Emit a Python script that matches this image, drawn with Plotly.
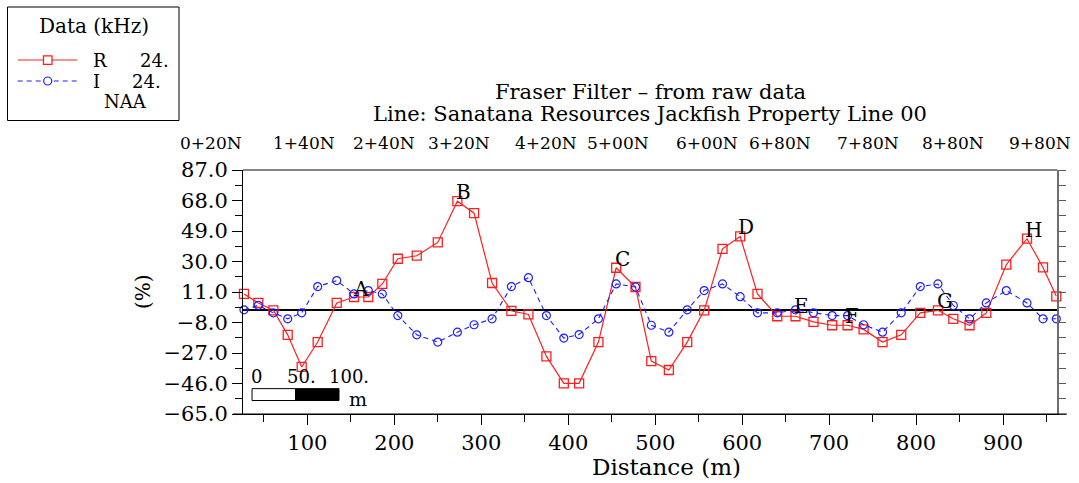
import plotly.graph_objects as go

# ---------------- data ----------------
distance = [27.1, 43.6, 60.9, 77.4, 93.5, 111.9, 133.8, 153.7, 170.1, 186.2, 204.0, 225.8, 250.0,
            272.5, 291.7, 312.4, 334.6, 354.2, 374.9, 394.9, 412.5, 434.7, 455.1, 477.3, 495.5,
            515.7, 536.8, 556.3, 577.4, 597.7, 617.6, 640.3, 661.3, 682.0, 703.5, 721.2,
            739.6, 761.4, 782.9, 804.8, 825.1, 842.8, 861.5, 880.7, 903.7, 927.5, 945.9, 961.2]
r_values = [9.8, 4.2, -0.4, -15.7, -35.7, -20.2, 4.2, 7.9, 7.9, 16.0, 31.7, 33.6, 41.9,
            67.6, 60.1, 16.6, -0.7, -3.0, -29.1, -45.9, -45.9, -20.2, 26.1, 14.1, -32.0,
            -37.6, -20.2, -0.4, 37.9, 45.6, 9.8, -4.1, -4.1, -7.6, -9.7, -9.7,
            -12.3, -20.2, -15.7, -2.0, -0.4, -5.7, -9.7, -2.0, 28.0, 44.2, 26.3, 8.3]
i_values = [-0.1, 2.7, -2.0, -5.7, -2.0, 14.4, 18.1, 9.8, 11.9, 9.8, -3.7, -15.7, -20.2,
            -14.0, -9.4, -5.7, 14.4, 19.9, -3.7, -17.7, -15.5, -5.7, 16.0, 14.1, -9.7,
            -14.0, -0.1, 11.9, 16.0, 8.1, -2.0, -2.0, -0.1, -2.0, -3.7, -3.7,
            -9.4, -14.0, -2.0, 14.4, 16.0, 2.6, -5.7, 4.2, 11.9, 4.2, -5.7, -5.7]

station_labels = ["0+20N", "1+40N", "2+40N", "3+20N", "4+20N", "5+00N",
                  "6+00N", "6+80N", "7+80N", "8+80N", "9+80N"]
station_pos = [27.1, 133.8, 225.8, 312.4, 412.5, 495.5, 597.7, 682.0, 782.9, 880.7, 980.0]

peak_labels = ["A", "B", "C", "D", "E", "F", "G", "H"]
peak_x = [161.4, 279.4, 462.3, 604.6, 668.7, 726.2, 832.7, 935.1]
peak_y = [13.0, 73.0, 31.7, 51.8, 2.1, -4.1, 5.2, 49.7]

title_lines = ["Fraser Filter \u2013 from raw data",
               "Line: Sanatana Resources Jackfish Property Line 00"]

X_RANGE = [26, 962]
Y_RANGE = [-65, 87]

# ---------------- layout helpers ----------------
W, H = 1079, 483
L, R_, T, B = 243, 1057, 170, 414
FONT = "DejaVu Serif"
RED = "rgb(255,30,30)"
BLUE = "rgb(30,30,255)"


def px(x):
    return (x - L) / (R_ - L)


def py(y):
    return (B - y) / (B - T)


def xfrac(v):
    return (v - X_RANGE[0]) / (X_RANGE[1] - X_RANGE[0])


def text(txt, x, y, size, xref="paper", yref="paper", xanchor="center", angle=0):
    return dict(text=txt, xref=xref, yref=yref, x=x, y=y, showarrow=False,
                xanchor=xanchor, yanchor="middle", textangle=angle,
                font=dict(family=FONT, size=size, color="black"))


fig = go.Figure()
fig.add_trace(go.Scatter(
    x=distance, y=r_values, mode="lines+markers", name="R",
    line=dict(color=RED, width=1.2),
    marker=dict(symbol="square-open", size=9, color=RED, line=dict(width=1.3)),
    showlegend=False, cliponaxis=False))
fig.add_trace(go.Scatter(
    x=distance, y=i_values, mode="lines+markers", name="I",
    line=dict(color=BLUE, width=1.1, dash="5px,4px"),
    marker=dict(symbol="circle-open", size=8, color=BLUE, line=dict(width=1.2)),
    showlegend=False, cliponaxis=False))
# invisible trace to carry the right-hand axis
fig.add_trace(go.Scatter(x=distance, y=r_values, yaxis="y2", mode="markers",
                         marker=dict(opacity=0), hoverinfo="skip", showlegend=False))

tickfont = dict(family=FONT, size=21, color="black")

fig.update_layout(
    width=W, height=H,
    margin=dict(l=L, r=W - R_, t=T, b=H - B),
    paper_bgcolor="white", plot_bgcolor="white",
    font=dict(family=FONT, color="black"),
    xaxis=dict(range=X_RANGE, tickmode="linear", tick0=0, dtick=100,
               ticks="outside", ticklen=10, tickwidth=1, tickcolor="black",
               minor=dict(dtick=50, tick0=0, ticks="outside", ticklen=7, tickcolor="black"),
               showline=True, linecolor="black", linewidth=1,
               showgrid=False, zeroline=False, tickfont=tickfont),
    yaxis=dict(range=Y_RANGE, tickmode="linear", tick0=-65, dtick=19, tickformat=".1f",
               ticks="outside", ticklen=10, tickwidth=1, tickcolor="black",
               minor=dict(dtick=9.5, tick0=-65, ticks="outside", ticklen=7, tickcolor="black"),
               showline=True, linecolor="black", linewidth=1,
               showgrid=False, zeroline=True, zerolinecolor="black", zerolinewidth=1.5,
               tickfont=tickfont),
    yaxis2=dict(range=Y_RANGE, overlaying="y", side="right", tickmode="linear",
                tick0=-65, dtick=9.5, ticks="outside", ticklen=7, tickcolor="rgb(90,90,90)",
                showticklabels=False, showline=True, linecolor="rgb(110,110,110)", linewidth=2,
                showgrid=False, zeroline=False),
)

shapes = []
annotations = []

# top frame line and extended bottom line
shapes.append(dict(type="line", xref="paper", yref="paper", x0=0, x1=1, y0=1, y1=1,
                   line=dict(color="rgb(90,90,90)", width=1.5)))
shapes.append(dict(type="line", xref="paper", yref="paper", x0=px(233), x1=px(1067), y0=0, y1=0,
                   line=dict(color="black", width=1)))

# title
for txt, yy in zip(title_lines, [92.5, 113.5]):
    annotations.append(text(txt, px(650), py(yy), 21))

# station labels along the top (right-aligned on station position)
for lab, pos in zip(station_labels, station_pos):
    annotations.append(text(lab, xfrac(pos), py(143), 17, xanchor="right"))

# peak letters
for lab, xx, yy in zip(peak_labels, peak_x, peak_y):
    annotations.append(text(lab, xx, yy, 20, xref="x", yref="y"))

# axis titles
annotations.append(text("(%)", px(143), py(292), 20, angle=-90))
annotations.append(text("Distance (m)", px(666), py(467), 23))

# scale bar
shapes.append(dict(type="rect", xref="x", yref="y", x0=36.4, x1=86.4, y0=-56.6, y1=-49.2,
                   fillcolor="white", line=dict(color="black", width=1)))
shapes.append(dict(type="rect", xref="x", yref="y", x0=86.4, x1=136.4, y0=-56.6, y1=-49.2,
                   fillcolor="black", line=dict(color="black", width=1)))
for txt, xx in zip(["0", "50.", "100."], [41.9, 92.7, 147.9]):
    annotations.append(text(txt, xx, -41.8, 18, xref="x", yref="y"))
annotations.append(text("m", 158.6, -55.5, 19, xref="x", yref="y"))

# legend box
shapes.append(dict(type="rect", xref="paper", yref="paper", x0=px(7.5), x1=px(179),
                   y0=py(120.5), y1=py(7), line=dict(color="black", width=1),
                   fillcolor="rgba(0,0,0,0)"))
annotations.append(text("Data (kHz)", px(93.5), py(26), 20))
shapes.append(dict(type="line", xref="paper", yref="paper", x0=px(17.7), x1=px(77.3),
                   y0=py(60), y1=py(60), line=dict(color=RED, width=1.2)))
shapes.append(dict(type="rect", xref="paper", yref="paper", x0=px(43.5), x1=px(52),
                   y0=py(64.3), y1=py(55.8), line=dict(color=RED, width=1.3),
                   fillcolor="white"))
shapes.append(dict(type="line", xref="paper", yref="paper", x0=px(17.7), x1=px(77.3),
                   y0=py(81), y1=py(81), line=dict(color=BLUE, width=1.1, dash="5px,4px")))
shapes.append(dict(type="circle", xref="paper", yref="paper", x0=px(43.7), x1=px(51.7),
                   y0=py(85), y1=py(77), line=dict(color=BLUE, width=1.2),
                   fillcolor="white"))
annotations.append(text("R", px(91), py(60), 18, xanchor="left"))
annotations.append(text("24.", px(171), py(60), 18, xanchor="right"))
annotations.append(text("I", px(91), py(81), 18, xanchor="left"))
annotations.append(text("24.", px(163), py(81), 18, xanchor="right"))
annotations.append(text("NAA", px(125), py(102), 18))

fig.update_layout(shapes=shapes, annotations=annotations)
fig.write_html("out.html", config={"displayModeBar": False},
               post_script="document.body.style.margin='0px';")
